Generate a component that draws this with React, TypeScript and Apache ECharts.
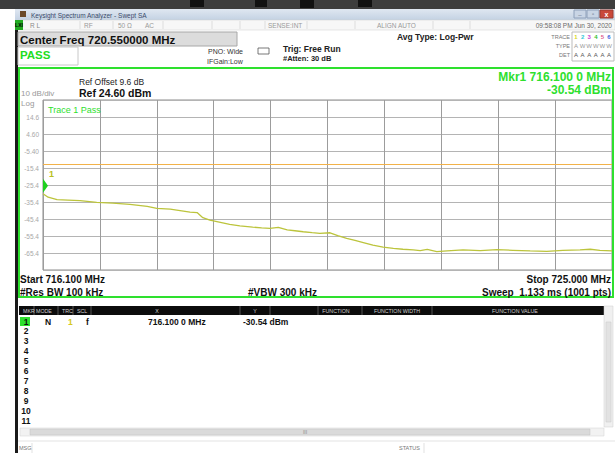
import React, { useEffect, useRef } from "react";
import * as echarts from "echarts";

// ---------- data ----------
const freqMHz = [
  716.1, 716.18, 716.32, 716.49, 716.68, 716.94, 717.19, 717.46, 717.73, 717.88,
  718.09, 718.27, 718.4, 718.51, 718.6, 718.71, 718.82, 719.02, 719.18, 719.38,
  719.52, 719.65, 719.78, 719.92, 720.04, 720.17, 720.31, 720.43, 720.59, 720.71,
  720.85, 720.98, 721.11, 721.26, 721.42, 721.58, 721.73, 721.89, 722.0, 722.11,
  722.26, 722.42, 722.67, 722.94, 723.2, 723.45, 723.72, 723.98, 724.23, 724.5,
  724.66, 724.81, 725.0,
];
const traceDbm = [
  -30.5, -32.6, -34.0, -34.3, -34.6, -35.6, -36.1, -36.8, -38.0, -39.1,
  -39.6, -40.6, -41.4, -41.6, -44.6, -46.0, -46.9, -48.5, -49.4, -50.2,
  -50.6, -50.9, -50.3, -51.8, -52.3, -52.9, -53.4, -53.8, -53.5, -55.2,
  -56.8, -58.0, -59.3, -60.8, -62.0, -62.7, -63.2, -63.6, -64.0, -63.3,
  -64.6, -64.2, -63.6, -64.0, -63.4, -63.8, -64.2, -64.4, -63.8, -63.6,
  -63.2, -63.8, -64.2,
];
const limitDbm = -13;
const markerFreq = 716.1;
const markerDbm = -30.54;
const startFreq = 716.1;
const stopFreq = 725.0;
const refLevel = 24.6;
const dbPerDiv = 10;
const yTickLabels = ["", "-65.4", "-55.4", "-45.4", "-35.4", "-25.4", "-15.4", "-5.40", "4.60", "14.6", ""];
const tableHeaders = ["MKR", "MODE", "TRC", "SCL", "X", "Y", "FUNCTION", "FUNCTION WIDTH", "FUNCTION VALUE"];
const markerRows = ["1", "2", "3", "4", "5", "6", "7", "8", "9", "10", "11"];

const FONT = '"Liberation Sans", Arial, Helvetica, sans-serif';

function txt(text: string, x: number, y: number, size: number, color: string, opts: any = {}) {
  return {
    type: "text",
    x,
    y,
    silent: true,
    z: 50,
    style: {
      text,
      fill: color,
      font: `${opts.bold ? "bold " : ""}${size}px ${FONT}`,
      align: opts.align || "left",
      verticalAlign: "middle",
    },
  };
}
function box(x: number, y: number, w: number, h: number, fill: string, stroke?: string, lw = 1) {
  return {
    type: "rect",
    silent: true,
    z: 1,
    shape: { x, y, width: w, height: h },
    style: { fill, stroke: stroke || "none", lineWidth: lw },
  };
}
function hline(x1: number, x2: number, y: number, color: string, lw = 1) {
  return { type: "line", silent: true, z: 2, shape: { x1, y1: y, x2, y2: y }, style: { stroke: color, lineWidth: lw } };
}
function vline(x: number, y1: number, y2: number, color: string, lw = 1) {
  return { type: "line", silent: true, z: 2, shape: { x1: x, y1, x2: x, y2 }, style: { stroke: color, lineWidth: lw } };
}

export default function App() {
  const ref = useRef<HTMLDivElement>(null);
  useEffect(() => {
    if (!ref.current) return;
    const chart = echarts.init(ref.current, undefined, { renderer: "svg" });
    const yMin = refLevel - 10 * dbPerDiv;

    const els: any[] = [];
    // top dark strip & side
    els.push(box(0, 0, 615, 9, "#3d3d3d"));
    els.push(box(190, 0, 14, 7, "#111"), box(255, 0, 12, 7, "#111"), box(300, 0, 14, 8, "#111"), box(358, 0, 14, 7, "#111"));
    els.push(box(0, 9, 15, 444, "#ffffff"));
    els.push(box(15, 9, 3, 444, "#1a1a1a"));
    // title bar
    els.push({
      type: "rect", silent: true, z: 1,
      shape: { x: 15, y: 9, width: 600, height: 11 },
      style: { fill: new echarts.graphic.LinearGradient(0, 0, 0, 1, [{ offset: 0, color: "#dfe7f1" }, { offset: 1, color: "#c4d2e3" }]) },
    });
    els.push(box(20, 11, 6, 6, "#6b4a2a"));
    els.push(txt("Keysight Spectrum Analyzer - Swept SA", 31, 15, 6.5, "#3a4a6a"));
    els.push(box(574, 10, 12, 8, "#c9d5e5", "#8ea0ba"), box(587, 10, 12, 8, "#c9d5e5", "#8ea0ba"), box(600, 10, 13, 8, "#c9483a", "#9a3a30"));
    els.push(txt("_", 580, 13, 6, "#5a6a80", { align: "center" }), txt("▫", 593, 14, 6, "#5a6a80", { align: "center" }), txt("x", 606.5, 14, 7, "#fff", { align: "center", bold: true }));
    // status row
    els.push(box(18, 20, 597, 10, "#f7f7f7", "#cfcfcf", 0.5));
    els.push(box(15, 20, 8, 10, "#22aa22"));
    els.push(txt("LXI", 19, 25, 5, "#000", { align: "center", bold: true }));
    els.push(txt("R L", 30, 25, 6.5, "#8a8a8a"), txt("RF", 84, 25, 6.5, "#9a9a9a"), txt("50 Ω", 118, 25, 6.5, "#9a9a9a"), txt("AC", 145, 25, 6.5, "#9a9a9a"));
    els.push(txt("SENSE:INT", 268, 25, 6.5, "#9a9a9a"), txt("ALIGN AUTO", 377, 25, 6.5, "#9a9a9a"));
    els.push(txt("09:58:08 PM Jun 30, 2020", 612, 25, 6.5, "#6a6a6a", { align: "right" }));
    [80, 113, 163, 212, 240, 265, 307, 355, 433, 470].forEach((x) => els.push(vline(x, 21, 29, "#cfcfcf", 0.6)));
    // center freq etc.
    els.push(box(18, 32, 219, 14, "#dcdcdc", "#a8a8a8"));
    els.push(txt("Center Freq 720.550000 MHz", 20, 39.5, 11.5, "#111", { bold: true }));
    els.push(box(18, 47, 60, 18, "#ffffff", "#c8c8c8"));
    els.push(txt("PASS", 20, 55, 11.5, "#22dd22", { bold: true }));
    els.push(txt("PNO: Wide", 208, 51, 7, "#333"), txt("IFGain:Low", 207, 61, 7, "#333"));
    els.push(box(258, 48, 11, 6, "#fff", "#555", 0.8));
    els.push(txt("Trig: Free Run", 283, 48.5, 8.5, "#222", { bold: true }), txt("#Atten: 30 dB", 283, 58.5, 7.5, "#222", { bold: true }));
    els.push(txt("Avg Type: Log-Pwr", 397, 37, 8.5, "#222", { bold: true }));
    els.push(box(572, 32, 42, 29, "#ffffff", "#bbbbbb"));
    els.push(txt("TRACE", 570, 37, 5.5, "#777", { align: "right" }), txt("TYPE", 570, 46, 5.5, "#777", { align: "right" }), txt("DET", 570, 55, 5.5, "#777", { align: "right" }));
    const traceCols = ["#d8d820", "#30c8d8", "#d040d0", "#30c030", "#e06090", "#4060e0"];
    traceCols.forEach((c, i) => {
      els.push(txt(String(i + 1), 576 + i * 6.6, 37, 6, c, { align: "center", bold: true }));
      els.push(txt(i === 0 ? "A" : "W", 576 + i * 6.6, 46, 6, "#999", { align: "center" }));
      els.push(txt("A", 576 + i * 6.6, 55, 6, "#555", { align: "center" }));
    });
    // main green panel
    els.push({ type: "rect", silent: true, z: 3, shape: { x: 19, y: 68, width: 594, height: 229 }, style: { fill: "none", stroke: "#2ee02e", lineWidth: 2 } });
    els.push(txt("Ref Offset 9.6 dB", 79, 82, 8.5, "#222"));
    els.push(txt("Ref 24.60 dBm", 79, 92.5, 10.5, "#111", { bold: true }));
    els.push(txt("10 dB/div", 21, 93, 8, "#999"), txt("Log", 21, 103, 8, "#999"));
    els.push(txt("Mkr1 716.100 0 MHz", 611, 77, 12, "#2ee02e", { bold: true, align: "right" }));
    els.push(txt("-30.54 dBm", 611, 89.5, 12, "#2ee02e", { bold: true, align: "right" }));
    els.push(txt("Trace 1 Pass", 48, 110, 9, "#2ee02e"));
    els.push(txt("Start 716.100 MHz", 20, 279, 10, "#111", { bold: true }));
    els.push(txt("#Res BW 100 kHz", 20, 292, 10, "#111", { bold: true }));
    els.push(txt("#VBW 300 kHz", 248, 292, 10, "#111", { bold: true }));
    els.push(txt("Stop 725.000 MHz", 611, 279, 10, "#111", { bold: true, align: "right" }));
    els.push(txt("Sweep  1.133 ms (1001 pts)", 611, 292, 10, "#111", { bold: true, align: "right" }));
    // marker table
    els.push(box(19, 306, 585, 9, "#0c0c0c"));
    const hdrX = [23, 36, 62, 77, 157, 254, 313, 365, 480];
    const hdrSep = [34, 58, 73, 91, 240, 270, 318, 362, 432];
    hdrSep.forEach((x) => els.push(vline(x, 306, 315, "#888", 0.6)));
    tableHeaders.forEach((h, i) => {
      const center = i >= 4;
      els.push(txt(h, center ? (i === 4 ? 157 : i === 5 ? 255 : i === 6 ? 336 : i === 7 ? 397 : 515) : hdrX[i], 310.5, 5.3, "#cfcfcf", { align: center ? "center" : "left" }));
    });
    els.push(box(604, 306, 9, 121, "#f0f0f0", "#cfcfcf", 0.5));
    els.push(box(606, 322, 5, 100, "#e2e2e2", "#c8c8c8", 0.5));
    els.push(box(20, 317, 10, 9, "#2ee02e"));
    markerRows.forEach((r, i) => {
      els.push(txt(r, 26, 321.5 + i * 9.9, 8.5, "#111", { bold: true, align: "center" }));
    });
    els.push(txt("N", 45, 321.5, 8.5, "#111", { bold: true }));
    els.push(txt("1", 68, 321.5, 8.5, "#d6c820", { bold: true }));
    els.push(txt("f", 86, 321.5, 8.5, "#111", { bold: true }));
    els.push(txt("716.100 0 MHz", 148, 321.5, 8.5, "#111", { bold: true }));
    els.push(txt("-30.54 dBm", 243, 321.5, 8.5, "#111", { bold: true }));
    els.push(box(20, 428, 584, 8, "#f2f2f2", "#d2d2d2", 0.5));
    els.push(box(30, 429, 560, 6, "#dadada", "#c0c0c0", 0.5));
    els.push(txt("III", 305, 432, 5, "#888", { align: "center" }));
    els.push(hline(18, 615, 441, "#d0d0d0", 0.6));
    els.push(txt("MSG", 19, 448, 5.5, "#777"));
    els.push(vline(32, 443, 453, "#cfcfcf", 0.6));
    els.push(txt("STATUS", 399, 448, 5.5, "#777"));
    els.push(vline(424, 443, 453, "#cfcfcf", 0.6));

    const data = freqMHz.map((f, i) => [f, traceDbm[i]]);

    chart.setOption({
      animation: false,
      backgroundColor: "#ffffff",
      textStyle: { fontFamily: FONT },
      grid: { left: 43, top: 100, width: 569, height: 170, show: true, borderColor: "#8c8c8c", borderWidth: 1, backgroundColor: "transparent" },
      xAxis: {
        type: "value",
        min: startFreq,
        max: stopFreq,
        interval: (stopFreq - startFreq) / 10,
        axisLabel: { show: false },
        axisTick: { show: false },
        axisLine: { show: false },
        splitLine: { show: true, lineStyle: { color: "#9c9c9c", width: 1 } },
      },
      yAxis: {
        type: "value",
        min: yMin,
        max: refLevel,
        interval: dbPerDiv,
        axisTick: { show: false },
        axisLine: { show: false },
        splitLine: { show: true, lineStyle: { color: "#b4b4b4", width: 1 } },
        axisLabel: {
          color: "#a8a8a8",
          fontSize: 6.5,
          margin: 4,
          showMinLabel: true,
          showMaxLabel: true,
          formatter: (v: number) => yTickLabels[Math.round((v - yMin) / dbPerDiv)] || "",
        },
      },
      series: [
        {
          type: "line",
          data,
          showSymbol: false,
          lineStyle: { color: "#bcc43c", width: 1.3 },
          z: 5,
          markLine: {
            silent: true,
            symbol: ["none", "none"],
            label: { show: false },
            lineStyle: { color: "#f2b24a", width: 1.2, type: "solid" },
            data: [{ yAxis: limitDbm }],
          },
          markPoint: {
            silent: true,
            data: [
              {
                coord: [markerFreq, markerDbm],
                symbol: "path://M0,0 L8,8 L0,16 Z",
                symbolSize: [5, 14],
                symbolOffset: [2.5, -8],
                itemStyle: { color: "#1fd01f" },
                label: {
                  show: true,
                  formatter: "1",
                  position: [6, -9],
                  color: "#b8c020",
                  fontSize: 9,
                  fontWeight: "bold",
                },
              },
            ],
          },
        },
      ],
      graphic: { elements: els },
    });
    return () => chart.dispose();
  }, []);
  return <div ref={ref} style={{ position: "fixed", left: 0, top: 0, width: 615, height: 453 }} />;
}
